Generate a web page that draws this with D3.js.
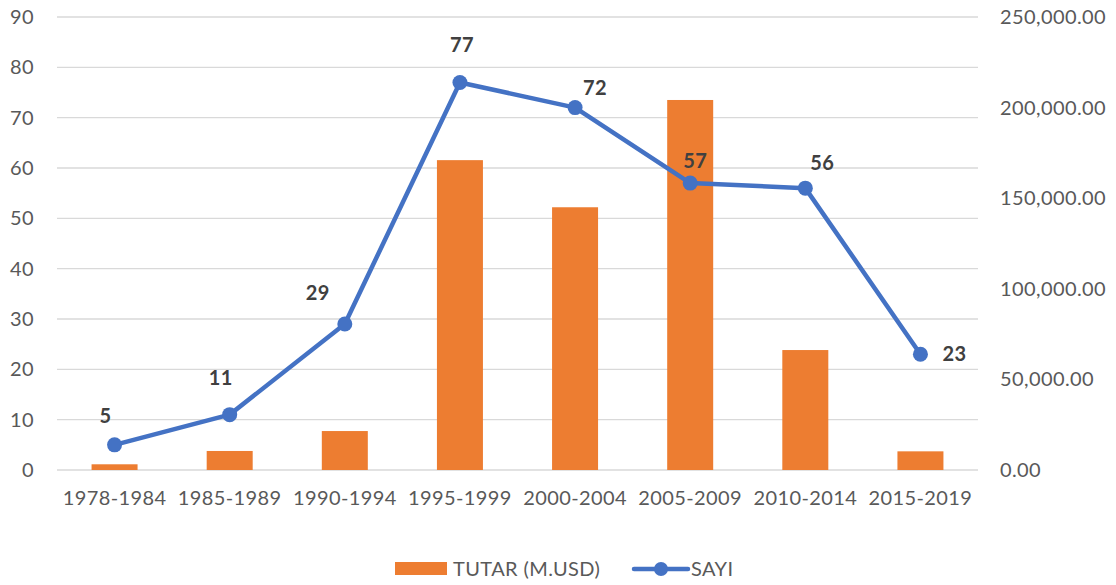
<!DOCTYPE html>
<html>
<head>
<meta charset="utf-8">
<script src="https://cdn.jsdelivr.net/npm/d3@7"></script>
<style>
  body { margin: 0; background: #fff; }
  text { font-family: Lato, "Open Sans", "Liberation Sans", sans-serif; letter-spacing: 0.4px; }
</style>
</head>
<body>
<div id="chart"></div>
<script>
// data
var periods = ['1978-1984', '1985-1989', '1990-1994', '1995-1999', '2000-2004', '2005-2009', '2010-2014', '2015-2019'];
var tutar = [3150, 10500, 21500, 171000, 145000, 204200, 66200, 10300];
var sayi = [5, 11, 29, 77, 72, 57, 56, 23];
var leftTicks = [0, 10, 20, 30, 40, 50, 60, 70, 80, 90];
var rightTicks = [0, 50000, 100000, 150000, 200000, 250000];

// label nudges (px) relative to each point
var labelDx = [-9, -9, -27, 2, 20, 5, 17, 34];
var labelDy = [-29, -37, -31, -37, -20, -22, -25, 0];

var w = 1116, h = 585;
var plotL = 57, plotR = 978, plotT = 17, plotB = 470;

var svg = d3.select('#chart').append('svg')
  .attr('width', w)
  .attr('height', h);

var x = d3.scaleBand().domain(periods).range([plotL, plotR]);
var yL = d3.scaleLinear().domain([0, 90]).range([plotB, plotT]);
var yR = d3.scaleLinear().domain([0, 250000]).range([plotB, plotT]);

// gridlines
svg.selectAll('line.grid')
  .data(leftTicks)
  .enter()
  .append('line')
  .attr('x1', plotL).attr('x2', plotR)
  .attr('y1', function(d){ return yL(d); })
  .attr('y2', function(d){ return yL(d); })
  .attr('stroke', '#d9d9d9')
  .attr('stroke-width', 1.3);

// left axis
var axL = svg.append('g')
  .attr('transform', 'translate(' + (plotL - 23) + ',0)')
  .call(d3.axisLeft(yL).tickValues(leftTicks).tickSize(0).tickPadding(0));
axL.select('.domain').remove();

// right axis
var fmt = d3.format(',.2f');
var axR = svg.append('g')
  .attr('transform', 'translate(' + (plotR + 22) + ',0)')
  .call(d3.axisRight(yR).tickValues(rightTicks).tickFormat(fmt).tickSize(0).tickPadding(0));
axR.select('.domain').remove();

// bottom axis
var axB = svg.append('g')
  .attr('transform', 'translate(0,' + (plotB + 15) + ')')
  .call(d3.axisBottom(x).tickSize(0).tickPadding(6));
axB.select('.domain').remove();

svg.selectAll('.tick text')
  .attr('fill', '#595959')
  .style('font-size', '20px')
  .style('font-family', 'Lato, "Open Sans", sans-serif');

// bars
var bw = 46;
svg.selectAll('rect.bar')
  .data(tutar)
  .enter()
  .append('rect')
  .attr('x', function(d, i){ return x(periods[i]) + x.bandwidth() / 2 - bw / 2; })
  .attr('y', function(d){ return yR(d); })
  .attr('width', bw)
  .attr('height', function(d){ return plotB - yR(d); })
  .attr('fill', '#ed7d31');

// line
var cx = function(d, i){ return x(periods[i]) + x.bandwidth() / 2; };
var line = d3.line()
  .x(cx)
  .y(function(d){ return yL(d); });

svg.append('path')
  .datum(sayi)
  .attr('d', line)
  .attr('fill', 'none')
  .attr('stroke', '#4472c4')
  .attr('stroke-width', 4.5)
  .attr('stroke-linejoin', 'round');

svg.selectAll('circle.pt')
  .data(sayi)
  .enter()
  .append('circle')
  .attr('cx', cx)
  .attr('cy', function(d){ return yL(d); })
  .attr('r', 7.5)
  .attr('fill', '#4472c4');

// value labels
svg.selectAll('text.lbl')
  .data(sayi)
  .enter()
  .append('text')
  .text(function(d){ return d; })
  .attr('x', function(d, i){ return cx(d, i) + labelDx[i]; })
  .attr('y', function(d, i){ return yL(d) + labelDy[i]; })
  .attr('dy', '0.35em')
  .attr('text-anchor', 'middle')
  .attr('font-weight', 'bold')
  .attr('font-size', '20px')
  .attr('fill', '#404040');

// legend
var lg = svg.append('g');
lg.append('rect')
  .attr('x', 395).attr('y', 562)
  .attr('width', 52).attr('height', 13)
  .attr('fill', '#ed7d31');
lg.append('text')
  .attr('x', 453).attr('y', 569).attr('dy', '0.35em')
  .attr('font-size', '20px').attr('fill', '#595959')
  .text('TUTAR (M.USD)');
lg.append('line')
  .attr('x1', 634).attr('x2', 688)
  .attr('y1', 569).attr('y2', 569)
  .attr('stroke', '#4472c4').attr('stroke-width', 4.5)
  .attr('stroke-linecap', 'round');
lg.append('circle')
  .attr('cx', 661).attr('cy', 569).attr('r', 7)
  .attr('fill', '#4472c4');
lg.append('text')
  .attr('x', 691).attr('y', 569).attr('dy', '0.35em')
  .attr('font-size', '20px').attr('fill', '#595959')
  .text('SAYI');
</script>
</body>
</html>
